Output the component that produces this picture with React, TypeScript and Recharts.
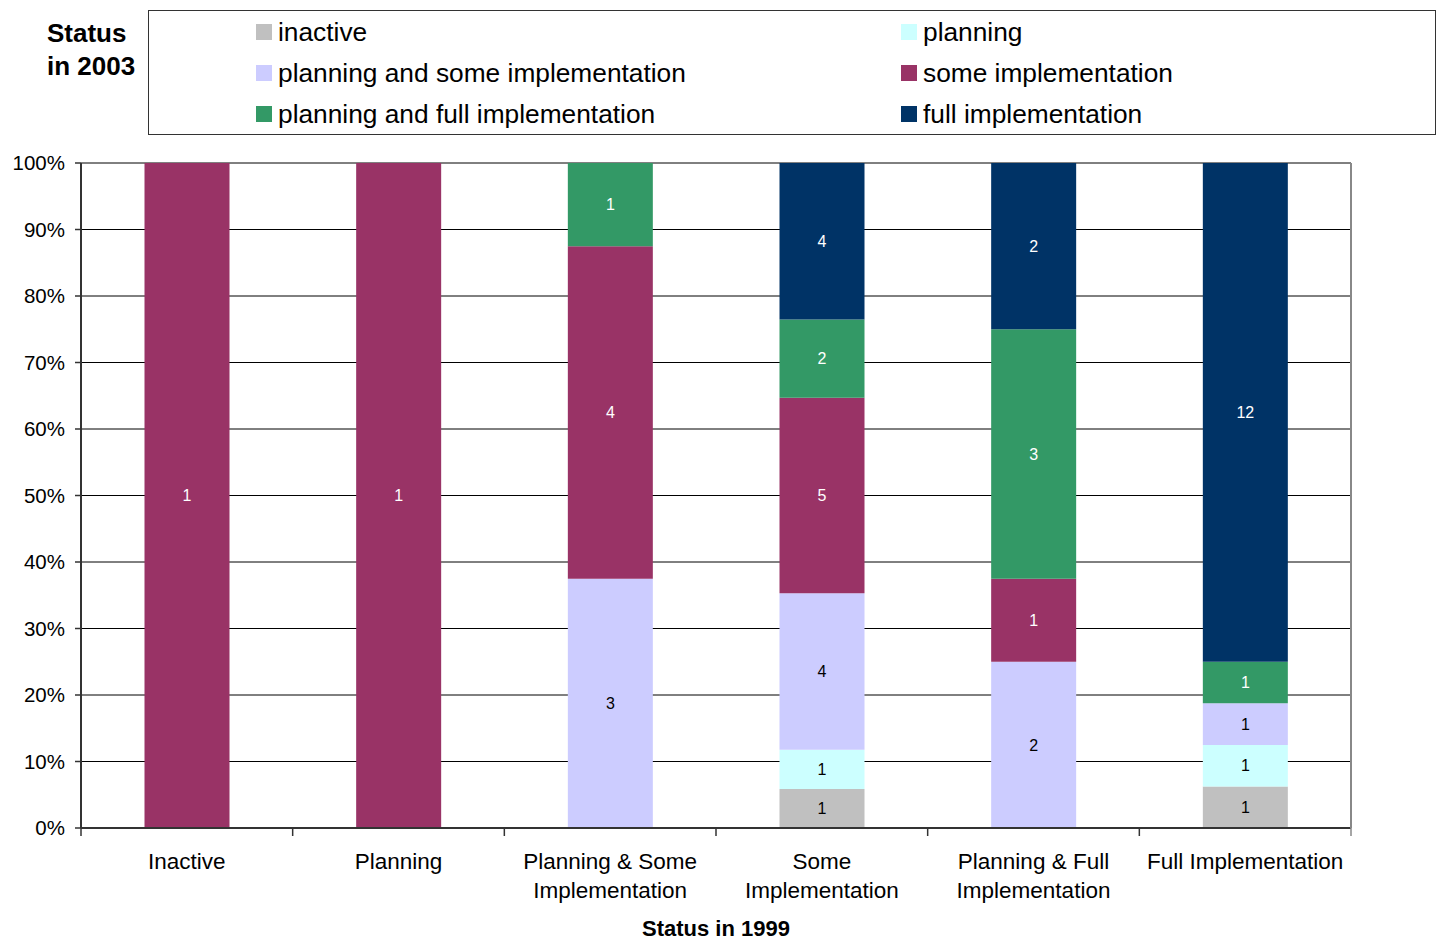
import { BarChart, Bar, XAxis, YAxis, CartesianGrid, LabelList } from "recharts";

const categories = [
  "Inactive",
  "Planning",
  "Planning & Some\nImplementation",
  "Some\nImplementation",
  "Planning & Full\nImplementation",
  "Full Implementation",
];

// counts of sites by 2003 status, per 1999 status
const inactive = [0, 0, 0, 1, 0, 1];
const planning = [0, 0, 0, 1, 0, 1];
const planningSome = [0, 0, 3, 4, 2, 1];
const someImpl = [1, 1, 4, 5, 1, 0];
const planningFull = [0, 0, 1, 2, 3, 1];
const fullImpl = [0, 0, 0, 4, 2, 12];

const yTicks = [0, 0.1, 0.2, 0.3, 0.4, 0.5, 0.6, 0.7, 0.8, 0.9, 1];

const series = [
  { key: "inactive", name: "inactive", values: inactive, color: "#C0C0C0", text: "#000" },
  { key: "planning", name: "planning", values: planning, color: "#CCFFFF", text: "#000" },
  { key: "planningSome", name: "planning and some implementation", values: planningSome, color: "#CCCCFF", text: "#000" },
  { key: "someImpl", name: "some implementation", values: someImpl, color: "#993366", text: "#fff" },
  { key: "planningFull", name: "planning and full implementation", values: planningFull, color: "#339966", text: "#fff" },
  { key: "fullImpl", name: "full implementation", values: fullImpl, color: "#003366", text: "#fff" },
];

const data = categories.map((cat, i) => {
  const row: Record<string, any> = { cat };
  series.forEach((s) => (row[s.key] = s.values[i]));
  return row;
});

const FONT = "'Liberation Sans', Arial, sans-serif";
const W = 1439;
const H = 941;
const PLOT_LEFT = 81;
const PLOT_RIGHT = 1351;
const BAND = (PLOT_RIGHT - PLOT_LEFT) / categories.length;

function CategoryTick(props: any) {
  const { x, y, payload, index } = props;
  const lines = String(payload.value).split("\n");
  const left = x - BAND / 2;
  return (
    <g>
      <line x1={left} y1={y} x2={left} y2={y + 8} stroke="#333" strokeWidth={1.5} />
      {index === categories.length - 1 && (
        <line x1={x + BAND / 2} y1={y} x2={x + BAND / 2} y2={y + 8} stroke="#888" strokeWidth={1.5} />
      )}
      {lines.map((l, i) => (
        <text
          key={i}
          x={x}
          y={y + 41 + i * 29}
          textAnchor="middle"
          fontSize={22.5}
          fontFamily={FONT}
          fill="#000"
        >
          {l}
        </text>
      ))}
    </g>
  );
}

function LegendBox() {
  return (
    <div
      style={{
        position: "absolute",
        left: 148,
        top: 10,
        width: 1286,
        height: 123,
        border: "1px solid #333",
        fontFamily: FONT,
        fontSize: 26.3,
      }}
    >
      {series.map((s, i) => {
        const col = i % 2;
        const row = Math.floor(i / 2);
        return (
          <div
            key={s.key}
            style={{
              position: "absolute",
              left: col === 0 ? 107 : 752,
              top: 2 + row * 41,
              height: 38,
              display: "flex",
              alignItems: "center",
              whiteSpace: "nowrap",
            }}
          >
            <span style={{ width: 16, height: 16, background: s.color, marginRight: 6, display: "inline-block" }} />
            <span>{s.name}</span>
          </div>
        );
      })}
    </div>
  );
}

export default function App() {
  return (
    <div style={{ position: "absolute", left: 0, top: 0, width: W, height: H, background: "#fff" }}>
      <div
        style={{
          position: "absolute",
          left: 47,
          top: 17,
          fontFamily: FONT,
          fontWeight: "bold",
          fontSize: 26,
          lineHeight: "33px",
        }}
      >
        Status
        <br />
        in 2003
      </div>
      <LegendBox />
      <BarChart
        width={W}
        height={H}
        data={data}
        stackOffset="expand"
        barCategoryGap="30%"
        margin={{ top: 163, right: W - PLOT_RIGHT - 1, left: 11, bottom: 13 }}
      >
        <CartesianGrid
          xAxisId="main"
          yAxisId="main"
          vertical={false}
          stroke="#000"
          strokeWidth={1}
        />
        <XAxis
          dataKey="cat"
          xAxisId="main"
          height={100}
          interval={0}
          tickSize={0}
          tickMargin={0}
          tickLine={false}
          tick={<CategoryTick />}
          axisLine={{ stroke: "#333", strokeWidth: 2 }}
          label={{
            value: "Status in 1999",
            position: "insideBottom",
            offset: -8,
            fontSize: 22,
            fontWeight: "bold",
            fontFamily: FONT,
            fill: "#000",
          }}
        />
        <XAxis
          xAxisId="top"
          dataKey="cat"
          orientation="top"
          height={0}
          tick={false}
          tickLine={false}
          axisLine={{ stroke: "#888", strokeWidth: 2 }}
        />
        <YAxis
          yAxisId="main"
          width={70}
          domain={[0, 1]}
          ticks={yTicks}
          interval={0}
          tickSize={6}
          tickMargin={10}
          tickFormatter={(v: number) => `${Math.round(v * 100)}%`}
          tick={{ fontSize: 20.5, fontFamily: FONT, fill: "#000" }}
          tickLine={{ stroke: "#333", strokeWidth: 1.5 }}
          axisLine={{ stroke: "#333", strokeWidth: 2 }}
        />
        <YAxis
          yAxisId="right"
          orientation="right"
          width={1}
          domain={[0, 1]}
          tick={false}
          tickLine={false}
          axisLine={{ stroke: "#888", strokeWidth: 2 }}
        />
        {series.map((s) => (
          <Bar
            key={s.key}
            dataKey={s.key}
            name={s.name}
            stackId="a"
            xAxisId="main"
            yAxisId="main"
            fill={s.color}
            isAnimationActive={false}
          >
            <LabelList
              dataKey={s.key}
              position="center"
              formatter={(v: any) => (v ? v : "")}
              fill={s.text}
              fontSize={16}
              fontFamily={FONT}
            />
          </Bar>
        ))}
      </BarChart>
    </div>
  );
}
